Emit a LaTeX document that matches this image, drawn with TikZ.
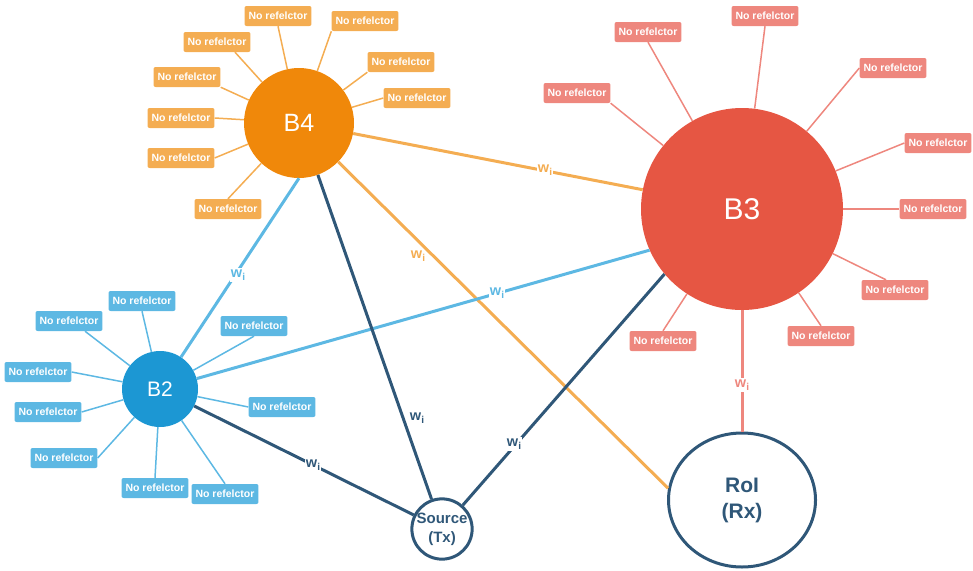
\documentclass[tikz,border=0pt]{standalone}
\usepackage{fontspec}
\setmainfont{Liberation Sans}
\usetikzlibrary{shapes.geometric}
\definecolor{orgD}{HTML}{F0880A}
\definecolor{orgL}{HTML}{F4AD52}
\definecolor{redD}{HTML}{E65643}
\definecolor{redL}{HTML}{EE877E}
\definecolor{bluD}{HTML}{1C97D3}
\definecolor{bluL}{HTML}{5DB8E3}
\definecolor{navy}{HTML}{2F5778}
\newcommand\wlabtxt{w\raisebox{-0.45ex}{\fontsize{10}{11}\selectfont i}}
\begin{document}
\begin{tikzpicture}[x=1pt,y=-1pt,
  refbox/.style={rounded corners=2pt, text=white, font=\bfseries\fontsize{10.5}{12}\selectfont, inner xsep=4pt, inner ysep=0pt, minimum height=20pt},
  rbO/.style={refbox, fill=orgL},
  rbR/.style={refbox, fill=redL},
  rbB/.style={refbox, fill=bluL},
  hub/.style={circle, inner sep=0pt, text=white},
  wlab/.style={font=\bfseries\fontsize{14.5}{16}\selectfont, inner sep=1pt},
  mainedge/.style={line width=3pt},
  thinedge/.style={line width=1.5pt}
]
\useasboundingbox (0,0) rectangle (973,570);

% hubs
\node[hub, fill=orgD, minimum size=110pt, font=\fontsize{25}{28}\selectfont] (B4) at (299,123) {B4};
\node[hub, fill=redD, minimum size=202pt, font=\fontsize{30}{34}\selectfont] (B3) at (742,209) {B3};
\node[hub, fill=bluD, minimum size=76pt, font=\fontsize{21}{24}\selectfont] (B2) at (160,389) {B2};
\node[circle, draw=navy, line width=3pt, minimum size=60pt, inner sep=0pt, text=navy,
      font=\bfseries\fontsize{15}{19}\selectfont, align=center] (Src) at (442,529) {Source\\(Tx)};
\node[ellipse, draw=navy, line width=3pt, minimum width=147pt, minimum height=134pt, inner sep=0pt, text=navy,
      font=\bfseries\fontsize{21}{26}\selectfont, align=center] (RoI) at (742,500) {RoI\\(Rx)};

% B4 reflectors
\node[rbO] (o1) at (278,16) {No refelctor};
\node[rbO] (o2) at (365,21) {No refelctor};
\node[rbO] (o3) at (217,42) {No refelctor};
\node[rbO] (o4) at (401,62) {No refelctor};
\node[rbO] (o5) at (187,77) {No refelctor};
\node[rbO] (o6) at (417,98) {No refelctor};
\node[rbO] (o7) at (181,118) {No refelctor};
\node[rbO] (o8) at (181,158) {No refelctor};
\node[rbO] (o9) at (228,209) {No refelctor};
\begin{scope}[thinedge, orgL]
\draw (B4) -- (o1.south);
\draw (B4) -- (o2.south west);
\draw (B4) -- ([xshift=18pt]o3.south);
\draw (B4) -- (o4.south west);
\draw (B4) -- (o5.south east);
\draw (B4) -- (o6.west);
\draw (B4) -- (o7.east);
\draw (B4) -- (o8.east);
\draw (B4) -- (o9.north);
\end{scope}

% B3 reflectors
\node[rbR] (r1) at (765,16) {No refelctor};
\node[rbR] (r2) at (648,32) {No refelctor};
\node[rbR] (r3) at (893,68) {No refelctor};
\node[rbR] (r4) at (577,93) {No refelctor};
\node[rbR] (r5) at (938,143) {No refelctor};
\node[rbR] (r6) at (933,209) {No refelctor};
\node[rbR] (r7) at (895,290) {No refelctor};
\node[rbR] (r8) at (821,336) {No refelctor};
\node[rbR] (r9) at (663,341) {No refelctor};
\begin{scope}[thinedge, redL]
\draw (B3) -- (r1.south);
\draw (B3) -- (r2.south);
\draw (B3) -- (r3.west);
\draw (B3) -- (r4.south east);
\draw (B3) -- (r5.west);
\draw (B3) -- (r6.west);
\draw (B3) -- ([xshift=-9pt]r7.north);
\draw (B3) -- (r8.north);
\draw (B3) -- (r9.north);
\end{scope}

% B2 reflectors
\node[rbB] (b1) at (142,301) {No refelctor};
\node[rbB] (b2) at (69,321) {No refelctor};
\node[rbB] (b3) at (254,326) {No refelctor};
\node[rbB] (b4) at (38,372) {No refelctor};
\node[rbB] (b5) at (48,412) {No refelctor};
\node[rbB] (b6) at (282,407) {No refelctor};
\node[rbB] (b7) at (64,458) {No refelctor};
\node[rbB] (b8) at (155,488) {No refelctor};
\node[rbB] (b9) at (225,494) {No refelctor};
\begin{scope}[thinedge, bluL]
\draw (B2) -- (b1.south);
\draw (B2) -- ([xshift=16pt]b2.south);
\draw (B2) -- (b3.south);
\draw (B2) -- (b4.east);
\draw (B2) -- (b5.east);
\draw (B2) -- (b6.west);
\draw (B2) -- (b7.east);
\draw (B2) -- (b8.north);
\draw (B2) -- (b9.north);
\end{scope}

% main links
\draw[mainedge, orgL] (B4) -- (B3);
\draw[mainedge, orgL] (B4) -- (RoI.171);
\draw[mainedge, bluL] (B2) -- (B4.270);
\draw[mainedge, bluL] (B2) -- (B3.204);
\draw[mainedge, navy] (Src) -- (B4.290);
\draw[mainedge, navy] (Src) -- (B3.220);
\draw[mainedge, navy] (B2) -- (Src);
\draw[mainedge, redL] (B3) -- (RoI);

% weight labels
\node[wlab, text=orgL, fill=white] (L1) at (545,170) {\wlabtxt};
\node[wlab, text=orgL] (L2) at (418,256) {\wlabtxt};
\node[wlab, text=bluL, fill=white] (L3) at (238,275) {\wlabtxt};
\node[wlab, text=bluL, fill=white] (L4) at (497,293) {\wlabtxt};
\node[wlab, text=navy] (L5) at (417,418) {\wlabtxt};
\node[wlab, text=navy, fill=white] (L6) at (514,444) {\wlabtxt};
\node[wlab, text=navy, fill=white] (L7) at (313,465) {\wlabtxt};
\node[wlab, text=redL, fill=white] (L8) at (742,385) {\wlabtxt};
\end{tikzpicture}
\end{document}
